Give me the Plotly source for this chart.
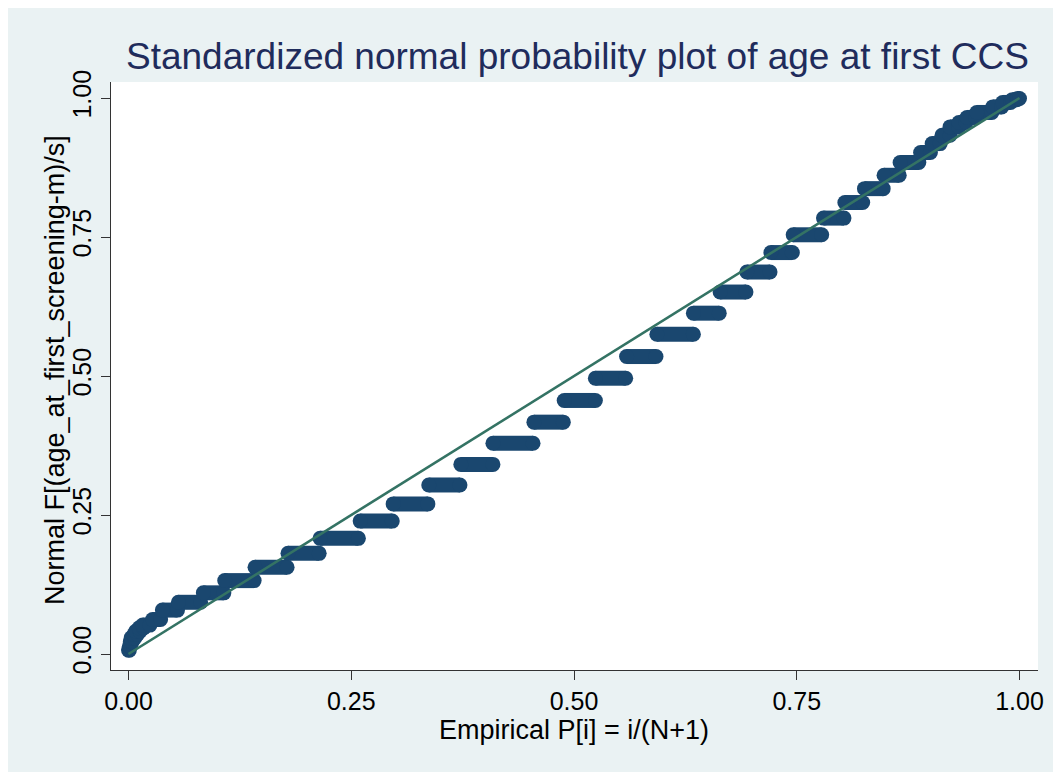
import plotly.graph_objects as go

# Step runs of the normal probability plot: each run is one distinct age value
# step_y = Normal F[(age-m)/s], step_x0/step_x1 = first/last empirical P[i] of the run
step_y = [0.007, 0.014, 0.022, 0.029, 0.035, 0.041, 0.047, 0.052, 0.062, 0.079,
          0.093, 0.110, 0.132, 0.156, 0.181, 0.208, 0.239, 0.270, 0.304, 0.341,
          0.379, 0.417, 0.456, 0.496, 0.535, 0.575, 0.613, 0.651, 0.687, 0.722,
          0.754, 0.784, 0.812, 0.837, 0.861, 0.884, 0.902, 0.918, 0.933, 0.948,
          0.956, 0.965, 0.974, 0.984, 0.992, 0.997, 0.999]
step_x0 = [0.000, 0.001, 0.002, 0.003, 0.006, 0.008, 0.012, 0.016, 0.027, 0.038,
           0.056, 0.084, 0.108, 0.142, 0.179, 0.215, 0.260, 0.297, 0.337, 0.373,
           0.409, 0.455, 0.489, 0.524, 0.559, 0.593, 0.634, 0.664, 0.694, 0.721,
           0.746, 0.780, 0.804, 0.826, 0.848, 0.866, 0.889, 0.902, 0.913, 0.922,
           0.932, 0.941, 0.952, 0.970, 0.981, 0.992, 0.998]
step_x1 = [0.001, 0.002, 0.004, 0.007, 0.010, 0.013, 0.017, 0.024, 0.036, 0.055,
           0.081, 0.107, 0.141, 0.178, 0.214, 0.258, 0.296, 0.336, 0.372, 0.409,
           0.454, 0.488, 0.524, 0.558, 0.592, 0.634, 0.663, 0.693, 0.720, 0.745,
           0.778, 0.803, 0.824, 0.847, 0.865, 0.887, 0.900, 0.911, 0.922, 0.932,
           0.940, 0.951, 0.969, 0.980, 0.990, 0.997, 1.000]

ref_x = [0.0, 1.0]
ref_y = [0.0, 1.0]

tick_vals = [0.0, 0.25, 0.5, 0.75, 1.0]
tick_text = ["0.00", "0.25", "0.50", "0.75", "1.00"]

title_text = "Standardized normal probability plot of age at first CCS"
x_title = "Empirical P[i] = i/(N+1)"
y_title = "Normal F[(age_at_first_screening-m)/s]"

NAVY = "#1A476F"
GREEN = "#347364"
BG = "#EAF2F3"
FONT = "Liberation Sans, Arial, sans-serif"

xs, ys = [], []
for y, a, b in zip(step_y, step_x0, step_x1):
    xs += [a, b, None]
    ys += [y, y, None]

fig = go.Figure()
fig.add_trace(go.Scatter(
    x=xs, y=ys, mode="lines+markers",
    line=dict(color=NAVY, width=15),
    marker=dict(color=NAVY, size=15, line=dict(width=0)),
    hoverinfo="skip", showlegend=False, connectgaps=False,
))
fig.add_trace(go.Scatter(
    x=ref_x, y=ref_y, mode="lines",
    line=dict(color=GREEN, width=2.6),
    hoverinfo="skip", showlegend=False,
))

W, H = 1061, 772
L, R, T, B = 103, 1030, 74, 662
X0PX, XSCALE = 120.5, 891.0
Y0PX, YSCALE = 646.0, 556.0
pw, ph = R - L, B - T

def px_to_paper_x(px):
    return (px - L) / pw

def px_to_paper_y(py):
    return (B - py) / ph

fig.update_layout(
    width=W, height=H,
    margin=dict(l=L, r=W - R, t=T, b=H - B, pad=0),
    paper_bgcolor=BG,
    plot_bgcolor="white",
    font=dict(family=FONT, color="black"),
    annotations=[
        dict(text=title_text, xref="paper", yref="paper",
             x=px_to_paper_x(569), y=px_to_paper_y(49),
             xanchor="center", yanchor="middle", showarrow=False,
             font=dict(size=37, color="#1F2C5C", family=FONT)),
        dict(text=x_title, xref="paper", yref="paper",
             x=px_to_paper_x(566), y=px_to_paper_y(722),
             xanchor="center", yanchor="middle", showarrow=False,
             font=dict(size=27, color="black", family=FONT)),
        dict(text=y_title, xref="paper", yref="paper",
             x=px_to_paper_x(47), y=px_to_paper_y(362),
             xanchor="center", yanchor="middle", showarrow=False, textangle=-90,
             font=dict(size=27, color="black", family=FONT)),
    ],
)
fig.update_xaxes(
    range=[(L - X0PX) / XSCALE, (R - X0PX) / XSCALE],
    tickvals=tick_vals, ticktext=tick_text,
    ticks="outside", ticklen=9, tickwidth=1.3, tickcolor="#333",
    showline=True, linecolor="#333", linewidth=1.3,
    showgrid=False, zeroline=False,
    tickfont=dict(size=25, color="black", family=FONT),
)
fig.update_yaxes(
    range=[(Y0PX - B) / YSCALE, (Y0PX - T) / YSCALE],
    tickvals=tick_vals, ticktext=tick_text, tickangle=-90,
    ticks="outside", ticklen=9, tickwidth=1.3, tickcolor="#333",
    showline=True, linecolor="#333", linewidth=1.3,
    showgrid=False, zeroline=False,
    tickfont=dict(size=25, color="black", family=FONT),
)

fig.write_html("out.html")
